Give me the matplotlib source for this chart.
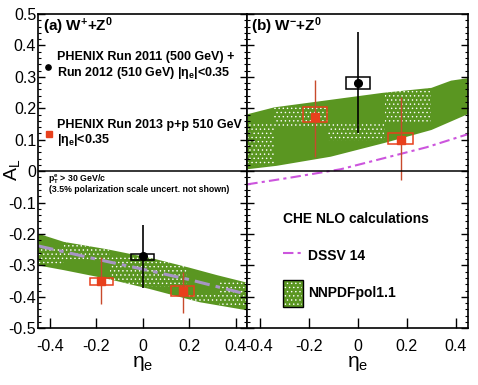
import numpy as np
import matplotlib
matplotlib.use("Agg")
import matplotlib.pyplot as plt
from matplotlib.patches import Rectangle

plt.rcParams['font.family'] = ['Liberation Sans', 'DejaVu Sans']
plt.rcParams['mathtext.fontset'] = 'custom'
plt.rcParams['mathtext.rm'] = 'Liberation Sans'
plt.rcParams['mathtext.it'] = 'Liberation Sans:italic'
plt.rcParams['mathtext.bf'] = 'Liberation Sans:bold'
plt.rcParams['mathtext.sf'] = 'Liberation Sans'
plt.rcParams['axes.unicode_minus'] = False
plt.rcParams['hatch.linewidth'] = 0.5

# ---------------- data ----------------
# Panel (a) W+ + Z0
wp_1112_eta = [0.0]
wp_1112_AL = [-0.271]
wp_1112_err_lo = [0.100]
wp_1112_err_hi = [0.101]
wp_1112_sys_lo = [-0.282]
wp_1112_sys_hi = [-0.263]

wp_13_eta = [-0.178, 0.171]
wp_13_AL = [-0.351, -0.380]
wp_13_err_lo = [0.071, 0.071]
wp_13_err_hi = [0.078, 0.059]
wp_13_sys_lo = [-0.362, -0.396]
wp_13_sys_hi = [-0.340, -0.366]

# Panel (b) W- + Z0
wm_1112_eta = [0.0]
wm_1112_AL = [0.280]
wm_1112_err_lo = [0.160]
wm_1112_err_hi = [0.163]
wm_1112_sys_lo = [0.261]
wm_1112_sys_hi = [0.299]

wm_13_eta = [-0.174, 0.174]
wm_13_AL = [0.171, 0.099]
wm_13_err_lo = [0.125, 0.128]
wm_13_err_hi = [0.119, 0.138]
wm_13_sys_lo = [0.157, 0.086]
wm_13_sys_hi = [0.203, 0.120]

sys_halfwidth = 0.05

# NNPDFpol1.1 bands
wp_band_top_eta = [-0.45, -0.34, -0.15, 0.05, 0.20, 0.32, 0.45]
wp_band_top = [-0.199, -0.225, -0.249, -0.279, -0.307, -0.331, -0.355]
wp_band_bot_eta = [-0.45, -0.34, -0.15, 0.03, 0.245, 0.45]
wp_band_bot = [-0.300, -0.315, -0.343, -0.375, -0.417, -0.443]

wm_band_top_eta = [-0.45, -0.34, 0.10, 0.30, 0.38, 0.45]
wm_band_top = [0.181, 0.203, 0.249, 0.265, 0.288, 0.296]
wm_band_bot_eta = [-0.45, -0.33, -0.11, 0.11, 0.30, 0.45]
wm_band_bot = [0.006, 0.017, 0.046, 0.090, 0.131, 0.182]

# dotted sub-regions of the bands (eta0, eta1, AL0, AL1)
wp_dot_eta0 = [-0.45, -0.34, -0.14, 0.19, 0.33]
wp_dot_eta1 = [-0.34, -0.14, 0.19, 0.33, 0.45]
wp_dot_lo = [-0.300, -0.284, -0.369, -0.420, -0.432]
wp_dot_hi = [-0.247, -0.220, -0.274, -0.392, -0.345]

wm_dot_eta0 = [-0.45, -0.34, -0.12, 0.11]
wm_dot_eta1 = [-0.34, -0.12, 0.11, 0.30]
wm_dot_lo = [0.017, 0.145, 0.097, 0.156]
wm_dot_hi = [0.156, 0.203, 0.156, 0.267]

# DSSV14 curves
wp_dssv_eta = [-0.45, -0.2, 0.0, 0.2, 0.45]
wp_dssv = [-0.238, -0.280, -0.312, -0.345, -0.392]
wm_dssv_eta = [-0.45, -0.27, -0.07, 0.12, 0.28, 0.45]
wm_dssv = [-0.042, -0.020, 0.006, 0.044, 0.076, 0.118]

xticks = [-0.4, -0.2, 0.0, 0.2, 0.4]
xticklabels = ['-0.4', '-0.2', '0', '0.2', '0.4']
yticks = [-0.5, -0.4, -0.3, -0.2, -0.1, 0.0, 0.1, 0.2, 0.3, 0.4, 0.5]
yticklabels = ['-0.5', '-0.4', '-0.3', '-0.2', '-0.1', '0', '0.1', '0.2', '0.3', '0.4', '0.5']

# ---------------- style ----------------
GREEN = '#5a9621'
RED = '#e8401c'
RED_ERR = '#c84a2c'
MAG = '#cc55dd'
DSSV_UNDER = '#a795c4'
HATCH = '....'

W, H = 478, 385
fig = plt.figure(figsize=(W / 100, H / 100), dpi=100)
ax1 = fig.add_axes([38.3 / W, 1 - 328.3 / H, 209 / W, 314.3 / H])
ax2 = fig.add_axes([247.3 / W, 1 - 328.3 / H, 221 / W, 314.3 / H])


def draw_band(ax, te, t, be, b, d0, d1, dlo, dhi):
    xs = np.concatenate([te, be[::-1]])
    ys = np.concatenate([t, b[::-1]])
    poly = ax.fill(xs, ys, color=GREEN, lw=0, zorder=1)[0]
    for x0, x1, y0, y1 in zip(d0, d1, dlo, dhi):
        r = Rectangle((x0, y0), x1 - x0, y1 - y0, facecolor='none',
                      edgecolor='white', lw=0, hatch=HATCH, zorder=1.5)
        ax.add_patch(r)
        r.set_clip_path(poly)


def draw_points(ax, eta, al, elo, ehi, slo, shi, color, ecolor, marker, ms, elw):
    for e, lo, hi in zip(eta, slo, shi):
        ax.add_patch(Rectangle((e - sys_halfwidth, lo), 2 * sys_halfwidth, hi - lo,
                               facecolor='none', edgecolor=color,
                               lw=1.1, zorder=3))
    ax.errorbar(eta, al, yerr=[elo, ehi], fmt='none', ecolor=ecolor, elinewidth=elw,
                capsize=0, zorder=4)
    ax.plot(eta, al, ls='none', marker=marker, ms=ms, color=color, mec=color, zorder=5)


# Panel (a)
draw_band(ax1, np.array(wp_band_top_eta), np.array(wp_band_top),
          np.array(wp_band_bot_eta), np.array(wp_band_bot),
          wp_dot_eta0, wp_dot_eta1, wp_dot_lo, wp_dot_hi)
ax1.plot(wp_dssv_eta, wp_dssv, color=DSSV_UNDER, lw=2.2, ls=(0, (5, 2, 1.5, 2)), zorder=2)
draw_points(ax1, wp_13_eta, wp_13_AL, wp_13_err_lo, wp_13_err_hi, wp_13_sys_lo, wp_13_sys_hi,
            RED, RED_ERR, 's', 5.5, 1.0)
draw_points(ax1, wp_1112_eta, wp_1112_AL, wp_1112_err_lo, wp_1112_err_hi, wp_1112_sys_lo,
            wp_1112_sys_hi, 'black', 'black', 'o', 5.5, 1.2)

# Panel (b)
draw_band(ax2, np.array(wm_band_top_eta), np.array(wm_band_top),
          np.array(wm_band_bot_eta), np.array(wm_band_bot),
          wm_dot_eta0, wm_dot_eta1, wm_dot_lo, wm_dot_hi)
ax2.plot(wm_dssv_eta, wm_dssv, color=MAG, lw=1.5, ls=(0, (5, 2, 1.5, 2)), zorder=2)
draw_points(ax2, wm_13_eta, wm_13_AL, wm_13_err_lo, wm_13_err_hi, wm_13_sys_lo, wm_13_sys_hi,
            RED, RED_ERR, 's', 5.5, 1.0)
draw_points(ax2, wm_1112_eta, wm_1112_AL, wm_1112_err_lo, wm_1112_err_hi, wm_1112_sys_lo,
            wm_1112_sys_hi, 'black', 'black', 'o', 5.5, 1.2)

for ax in (ax1, ax2):
    ax.set_xlim(-0.45, 0.45)
    ax.set_ylim(-0.5, 0.5)
    ax.axhline(0, color='black', lw=1.1, zorder=6)
    ax.set_xticks(xticks)
    ax.set_xticklabels(xticklabels, fontsize=11.5)
    ax.set_yticks(yticks)
    ax.set_yticks(np.arange(-0.5, 0.501, 0.02), minor=True)
    ax.tick_params(axis='x', which='major', direction='in', length=7.5, width=1, pad=8,
                   top=False, bottom=True)
    ax.tick_params(axis='x', which='minor', bottom=False, top=False)
    ax.tick_params(axis='y', which='major', direction='in', length=5, width=1,
                   left=True, right=True, pad=1.5)
    ax.tick_params(axis='y', which='minor', direction='in', length=2.5, width=0.8,
                   left=True, right=True)
    for s in ax.spines.values():
        s.set_linewidth(1.2)
    ax.set_xlabel(r'$\mathrm{η}_\mathrm{e}$', fontsize=15, labelpad=0)

ax1.set_yticklabels(yticklabels, fontsize=11.5)
ax2.set_yticklabels([])

fig.text(12 / W, 1 - 170 / H, r'A$_\mathrm{L}$', rotation=90, fontsize=14,
         ha='center', va='center')

# Panel (a) texts / legend
T = ax1.transAxes
ax1.text(0.024, 0.947, r'(a) W$^{\mathbf{+}}$+Z$^{\mathbf{0}}$', transform=T,
         fontsize=11, fontweight='bold', va='baseline')
ax1.plot([0.048], [0.832], 'o', color='black', ms=3.8, transform=T, clip_on=False)
ax1.text(0.091, 0.854, 'PHENIX Run 2011 (500 GeV) +', transform=T, fontsize=9,
         fontweight='bold', va='baseline')
ax1.text(0.091, 0.803, r'Run 2012 (510 GeV) |$\mathbf{η}_\mathbf{e}$|<0.35', transform=T,
         fontsize=9, fontweight='bold', va='baseline')
ax1.plot([0.051], [0.618], 's', color=RED, ms=4.2, transform=T, clip_on=False)
ax1.text(0.091, 0.638, 'PHENIX Run 2013 p+p 510 GeV', transform=T, fontsize=9,
         fontweight='bold', va='baseline')
ax1.text(0.091, 0.590, r'|$\mathbf{η}_\mathbf{e}$|<0.35', transform=T,
         fontsize=9, fontweight='bold', va='baseline')
ax1.text(0.048, 0.466, r'$\mathbf{p}_\mathbf{T}^\mathbf{e}$ > 30 GeV/c', transform=T,
         fontsize=6.3, fontweight='bold', va='baseline')
ax1.text(0.053, 0.433, '(3.5% polarization scale uncert. not shown)', transform=T,
         fontsize=6.3, fontweight='bold', va='baseline')

# Panel (b) texts / legend
T2 = ax2.transAxes
ax2.text(0.015, 0.947, r'(b) W$^{\mathbf{-}}$+Z$^{\mathbf{0}}$', transform=T2,
         fontsize=11, fontweight='bold', va='baseline')
ax2.text(0.160, 0.336, 'CHE NLO calculations', transform=T2, fontsize=10,
         fontweight='bold', va='baseline')
ax2.plot([0.160, 0.246], [0.239, 0.239], color=MAG, lw=1.5, ls=(0, (5, 2, 1.5, 2)),
         transform=T2)
ax2.text(0.273, 0.217, 'DSSV 14', transform=T2, fontsize=10, fontweight='bold',
         va='baseline')
ax2.add_patch(Rectangle((0.163, 0.067), 0.090, 0.087, transform=T2, facecolor=GREEN,
                        edgecolor='black', lw=1.0, zorder=3))
ax2.add_patch(Rectangle((0.168, 0.072), 0.080, 0.077, transform=T2, facecolor='none',
                        edgecolor='white', lw=0, hatch=HATCH, zorder=3.5))
ax2.text(0.273, 0.101, 'NNPDFpol1.1', transform=T2, fontsize=10, fontweight='bold',
         va='baseline')

fig.savefig('out.png', dpi=100)
